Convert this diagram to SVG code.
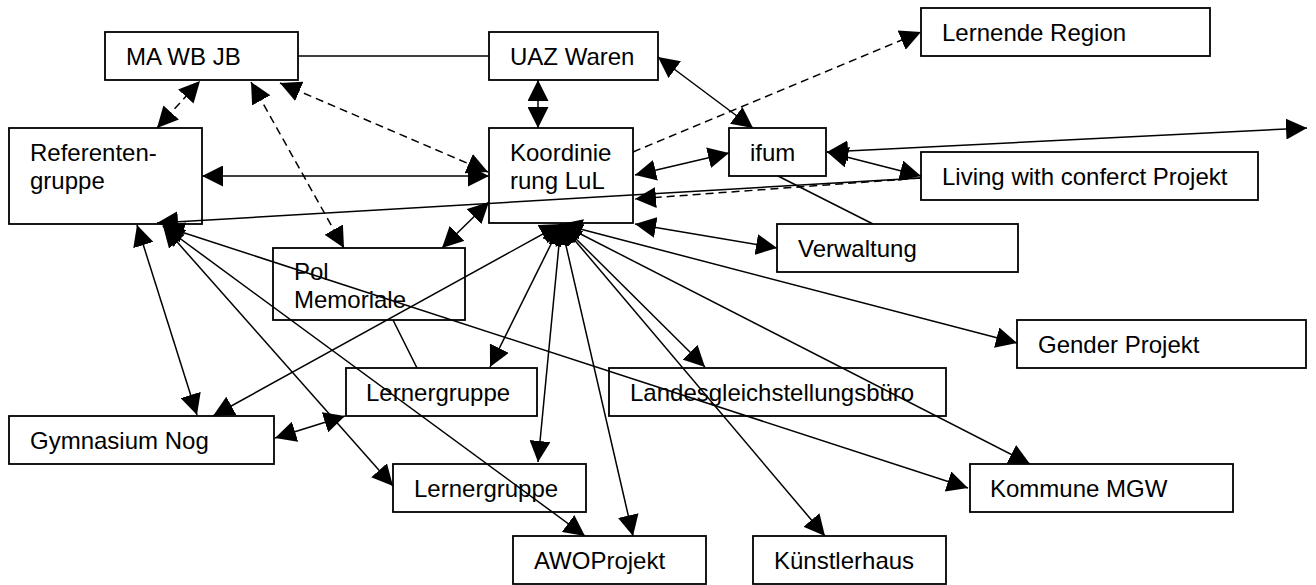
<svg xmlns="http://www.w3.org/2000/svg" width="1316" height="585" viewBox="0 0 1316 585">
<style>
.box{fill:#fff;stroke:#000;stroke-width:1.8}
.lbl{font-family:"Liberation Sans",Arial,sans-serif;font-size:24px;fill:#000}
.c{stroke:#000;stroke-width:1.5;fill:none}
.d{stroke-dasharray:8,5}
.e{marker-end:url(#ah)}
.s{marker-start:url(#ah)}
</style>
<defs>
<marker id="ah" viewBox="0 0 21 21" refX="21" refY="10.5" markerWidth="21" markerHeight="21" markerUnits="userSpaceOnUse" orient="auto-start-reverse"><path d="M0,0 L21,10.5 L0,21 z" fill="#000"/></marker>
</defs>
<rect width="1316" height="585" fill="#fff"/>
<g id="nodes">
<g id="n-mawbjb"><rect class="box" x="105" y="32" width="193" height="48"/><text class="lbl" x="126" y="65">MA WB JB</text></g>
<g id="n-uaz"><rect class="box" x="489" y="32" width="169" height="48"/><text class="lbl" x="510" y="65">UAZ Waren</text></g>
<g id="n-lernende"><rect class="box" x="921" y="8" width="289" height="48"/><text class="lbl" x="942" y="41">Lernende Region</text></g>
<g id="n-ref"><rect class="box" x="9" y="128" width="193" height="96"/><text class="lbl" x="30" y="161">Referenten-</text><text class="lbl" x="30" y="189">gruppe</text></g>
<g id="n-koord"><rect class="box" x="489" y="128" width="144" height="95"/><text class="lbl" x="510" y="161">Koordinie</text><text class="lbl" x="510" y="189">rung LuL</text></g>
<g id="n-ifum"><rect class="box" x="729" y="128" width="97" height="48"/><text class="lbl" x="750" y="161">ifum</text></g>
<g id="n-living"><rect class="box" x="921" y="152" width="337" height="48"/><text class="lbl" x="942" y="185">Living with conferct Projekt</text></g>
<g id="n-verwaltung"><rect class="box" x="777" y="224" width="241" height="48"/><text class="lbl" x="798" y="257">Verwaltung</text></g>
<g id="n-gender"><rect class="box" x="1017" y="320" width="289" height="48"/><text class="lbl" x="1038" y="353">Gender Projekt</text></g>
<g id="n-pol"><rect class="box" x="273" y="248" width="192" height="72"/><text class="lbl" x="294" y="280">Pol</text><text class="lbl" x="294" y="308">Memoriale</text></g>
<g id="n-lerner1"><rect class="box" x="346" y="368" width="191" height="48"/><text class="lbl" x="366" y="401">Lernergruppe</text></g>
<g id="n-landes"><rect class="box" x="609" y="368" width="337" height="48"/><text class="lbl" x="630" y="401">Landesgleichstellungsbüro</text></g>
<g id="n-gym"><rect class="box" x="9" y="416" width="265" height="48"/><text class="lbl" x="30" y="449">Gymnasium Nog</text></g>
<g id="n-lerner2"><rect class="box" x="393" y="464" width="193" height="48"/><text class="lbl" x="414" y="497">Lernergruppe</text></g>
<g id="n-kommune"><rect class="box" x="970" y="464" width="263" height="48"/><text class="lbl" x="990" y="497">Kommune MGW</text></g>
<g id="n-awo"><rect class="box" x="513" y="536" width="193" height="48"/><text class="lbl" x="534" y="569">AWOProjekt</text></g>
<g id="n-kuenstler"><rect class="box" x="753" y="536" width="193" height="48"/><text class="lbl" x="774" y="569">Künstlerhaus</text></g>
</g>
<g id="connectors">
<line class="c" x1="298" y1="56" x2="489" y2="56"/>
<line class="c d s e" x1="157" y1="128" x2="200" y2="81"/>
<line class="c d s e" x1="251" y1="82" x2="344" y2="248"/>
<line class="c d s e" x1="280" y1="83" x2="488" y2="172"/>
<line class="c s e" x1="202" y1="176" x2="489" y2="176"/>
<line class="c s e" x1="538" y1="80" x2="538" y2="128"/>
<line class="c s e" x1="658" y1="57" x2="753" y2="128"/>
<line class="c d e" x1="633" y1="152" x2="921" y2="32"/>
<line class="c s e" x1="635" y1="175" x2="729" y2="153"/>
<line class="c s e" x1="827" y1="152" x2="921" y2="176"/>
<line class="c s e" x1="827" y1="152" x2="1307" y2="128"/>
<line class="c e" x1="921" y1="178" x2="157" y2="223"/>
<line class="c d e" x1="921" y1="178" x2="635" y2="199"/>
<line class="c" x1="778" y1="176" x2="873" y2="224"/>
<line class="c s e" x1="635" y1="224" x2="777" y2="248"/>
<line class="c s e" x1="489" y1="202" x2="442" y2="248"/>
<line class="c s e" x1="561" y1="224" x2="213" y2="416"/>
<line class="c s e" x1="561" y1="224" x2="490" y2="367"/>
<line class="c s e" x1="561" y1="224" x2="538" y2="462"/>
<line class="c s e" x1="561" y1="224" x2="633" y2="536"/>
<line class="c s e" x1="561" y1="224" x2="705" y2="367"/>
<line class="c s e" x1="561" y1="224" x2="825" y2="536"/>
<line class="c s e" x1="561" y1="224" x2="1030" y2="464"/>
<line class="c s e" x1="561" y1="224" x2="1017" y2="343"/>
<line class="c s e" x1="137" y1="225" x2="197" y2="415"/>
<line class="c s e" x1="163" y1="226" x2="393" y2="486"/>
<line class="c s e" x1="163" y1="226" x2="585" y2="536"/>
<line class="c s e" x1="163" y1="226" x2="968" y2="488"/>
<line class="c s e" x1="275" y1="438" x2="345" y2="416"/>
<line class="c" x1="393" y1="320" x2="417" y2="368"/>
</g>
</svg>
